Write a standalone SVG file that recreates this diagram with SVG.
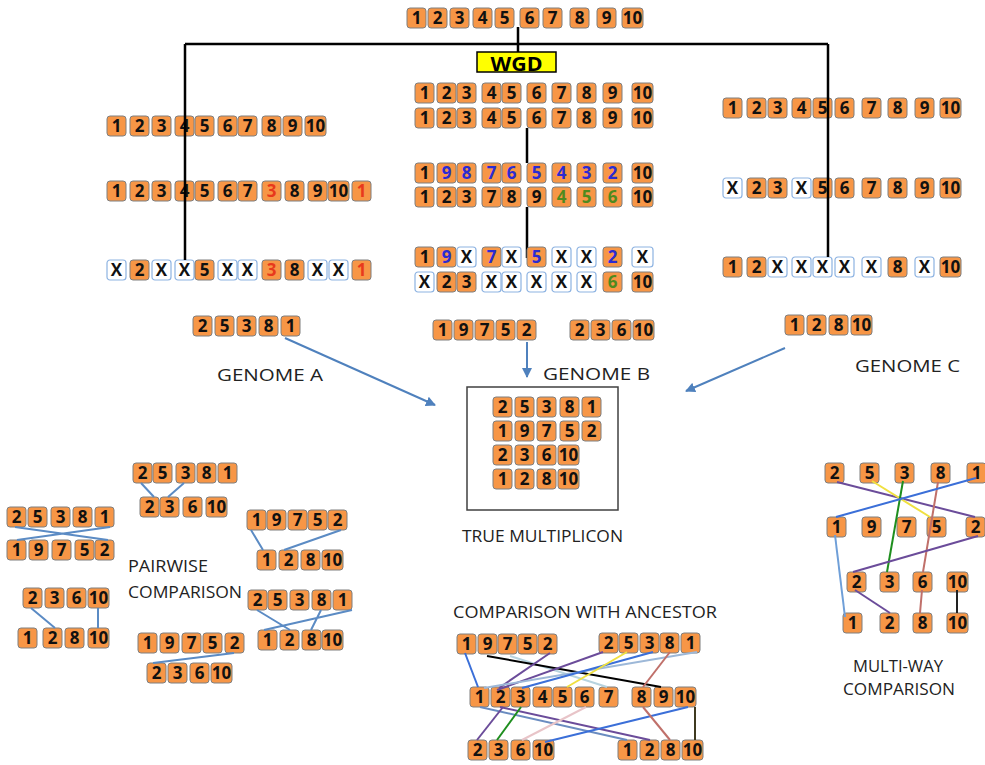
<svg xmlns="http://www.w3.org/2000/svg" xmlns:xlink="http://www.w3.org/1999/xlink" width="985" height="765" viewBox="0 0 985 765">
<style>
.n text{font-family:"Open Sans","DejaVu Sans",sans-serif;font-weight:700;font-size:17px;text-anchor:middle;fill:#111}
.n text.b{fill:#2B2BD2}.n text.g{fill:#4E8A1E}.n text.r{fill:#E8391C}
.lbl{font-family:"Open Sans","DejaVu Sans",sans-serif;font-size:16px;fill:#222}
.tree{stroke:#000;stroke-width:2.5;fill:none}
.arr{stroke:#4F81BD;stroke-width:2;fill:none}
.pw{stroke:#5B8BC4;stroke-width:2;fill:none}
.c{stroke-width:2;fill:none}
</style>
<defs>
<rect id="o" width="19" height="20" rx="3" fill="#F79646" stroke="#7F7F7F"/>
<rect id="o2" width="21" height="20" rx="3" fill="#F79646" stroke="#7F7F7F"/>
<rect id="w" width="19" height="20" rx="3" fill="#FFFFFF" stroke="#8DB3E2" stroke-width="1.2"/>
<rect id="w2" width="21" height="20" rx="3" fill="#FFFFFF" stroke="#8DB3E2" stroke-width="1.2"/>
<marker id="ah" viewBox="0 0 10 10" refX="9" refY="5" markerWidth="5" markerHeight="5" orient="auto"><path d="M0,0 L10,5 L0,10 z" fill="#4F81BD"/></marker>
</defs>
<rect width="985" height="765" fill="#fff"/>

<g id="connectors-tree">
<path class="tree" d="M185,44 H828 M518,27 V52 M527,128 V163 M527,207 V258"/>
</g>

<g id="n-ancestor" class="n">
<use href="#o" x="407" y="8"/><text x="416.5" y="24">1</text>
<use href="#o" x="428" y="8"/><text x="437.5" y="24">2</text>
<use href="#o" x="450" y="8"/><text x="459.5" y="24">3</text>
<use href="#o" x="473" y="8"/><text x="482.5" y="24">4</text>
<use href="#o" x="495" y="8"/><text x="504.5" y="24">5</text>
<use href="#o" x="520" y="8"/><text x="529.5" y="24">6</text>
<use href="#o" x="543" y="8"/><text x="552.5" y="24">7</text>
<use href="#o" x="570" y="8"/><text x="579.5" y="24">8</text>
<use href="#o" x="597" y="8"/><text x="606.5" y="24">9</text>
<use href="#o2" x="622" y="8"/><text x="632.5" y="24">10</text>
</g>

<g id="n-wgd">
<rect x="477" y="52" width="79" height="20" fill="#FFFF00" stroke="#000" stroke-width="1.5"/>
<text x="516.5" y="71" font-family="Open Sans, sans-serif" font-weight="700" font-size="20" text-anchor="middle" textLength="52" lengthAdjust="spacingAndGlyphs">WGD</text>
</g>

<g id="n-left-1" class="n">
<use href="#o" x="107" y="116"/><text x="116.5" y="132">1</text>
<use href="#o" x="130" y="116"/><text x="139.5" y="132">2</text>
<use href="#o" x="152" y="116"/><text x="161.5" y="132">3</text>
<use href="#o" x="175" y="116"/><text x="184.5" y="132">4</text>
<use href="#o" x="195" y="116"/><text x="204.5" y="132">5</text>
<use href="#o" x="218" y="116"/><text x="227.5" y="132">6</text>
<use href="#o" x="238" y="116"/><text x="247.5" y="132">7</text>
<use href="#o" x="262" y="116"/><text x="271.5" y="132">8</text>
<use href="#o" x="283" y="116"/><text x="292.5" y="132">9</text>
<use href="#o2" x="305" y="116"/><text x="315.5" y="132">10</text>
</g>
<g id="n-left-2" class="n">
<use href="#o" x="107" y="181"/><text x="116.5" y="197">1</text>
<use href="#o" x="130" y="181"/><text x="139.5" y="197">2</text>
<use href="#o" x="152" y="181"/><text x="161.5" y="197">3</text>
<use href="#o" x="175" y="181"/><text x="184.5" y="197">4</text>
<use href="#o" x="195" y="181"/><text x="204.5" y="197">5</text>
<use href="#o" x="218" y="181"/><text x="227.5" y="197">6</text>
<use href="#o" x="238" y="181"/><text x="247.5" y="197">7</text>
<use href="#o" x="262" y="181"/><text class="r" x="271.5" y="197">3</text>
<use href="#o" x="285" y="181"/><text x="294.5" y="197">8</text>
<use href="#o" x="308" y="181"/><text x="317.5" y="197">9</text>
<use href="#o2" x="328" y="181"/><text x="338.5" y="197">10</text>
<use href="#o" x="352" y="181"/><text class="r" x="361.5" y="197">1</text>
</g>
<g id="n-left-3" class="n">
<use href="#w" x="107" y="260"/><text x="116.5" y="276">X</text>
<use href="#o" x="130" y="260"/><text x="139.5" y="276">2</text>
<use href="#w" x="152" y="260"/><text x="161.5" y="276">X</text>
<use href="#w" x="175" y="260"/><text x="184.5" y="276">X</text>
<use href="#o" x="195" y="260"/><text x="204.5" y="276">5</text>
<use href="#w" x="218" y="260"/><text x="227.5" y="276">X</text>
<use href="#w" x="238" y="260"/><text x="247.5" y="276">X</text>
<use href="#o" x="262" y="260"/><text class="r" x="271.5" y="276">3</text>
<use href="#o" x="285" y="260"/><text x="294.5" y="276">8</text>
<use href="#w" x="308" y="260"/><text x="317.5" y="276">X</text>
<use href="#w" x="329" y="260"/><text x="338.5" y="276">X</text>
<use href="#o" x="352" y="260"/><text class="r" x="361.5" y="276">1</text>
</g>

<g id="n-mid-1" class="n">
<use href="#o" x="415" y="83"/><text x="424.5" y="99">1</text>
<use href="#o" x="437" y="83"/><text x="446.5" y="99">2</text>
<use href="#o" x="457" y="83"/><text x="466.5" y="99">3</text>
<use href="#o" x="482" y="83"/><text x="491.5" y="99">4</text>
<use href="#o" x="502" y="83"/><text x="511.5" y="99">5</text>
<use href="#o" x="527" y="83"/><text x="536.5" y="99">6</text>
<use href="#o" x="552" y="83"/><text x="561.5" y="99">7</text>
<use href="#o" x="577" y="83"/><text x="586.5" y="99">8</text>
<use href="#o" x="603" y="83"/><text x="612.5" y="99">9</text>
<use href="#o2" x="632" y="83"/><text x="642.5" y="99">10</text>
</g>
<g id="n-mid-2" class="n">
<use href="#o" x="415" y="108"/><text x="424.5" y="124">1</text>
<use href="#o" x="437" y="108"/><text x="446.5" y="124">2</text>
<use href="#o" x="457" y="108"/><text x="466.5" y="124">3</text>
<use href="#o" x="482" y="108"/><text x="491.5" y="124">4</text>
<use href="#o" x="502" y="108"/><text x="511.5" y="124">5</text>
<use href="#o" x="527" y="108"/><text x="536.5" y="124">6</text>
<use href="#o" x="552" y="108"/><text x="561.5" y="124">7</text>
<use href="#o" x="577" y="108"/><text x="586.5" y="124">8</text>
<use href="#o" x="603" y="108"/><text x="612.5" y="124">9</text>
<use href="#o2" x="632" y="108"/><text x="642.5" y="124">10</text>
</g>
<g id="n-mid-3" class="n">
<use href="#o" x="415" y="163"/><text x="424.5" y="179">1</text>
<use href="#o" x="437" y="163"/><text class="b" x="446.5" y="179">9</text>
<use href="#o" x="457" y="163"/><text class="b" x="466.5" y="179">8</text>
<use href="#o" x="482" y="163"/><text class="b" x="491.5" y="179">7</text>
<use href="#o" x="502" y="163"/><text class="b" x="511.5" y="179">6</text>
<use href="#o" x="527" y="163"/><text class="b" x="536.5" y="179">5</text>
<use href="#o" x="552" y="163"/><text class="b" x="561.5" y="179">4</text>
<use href="#o" x="577" y="163"/><text class="b" x="586.5" y="179">3</text>
<use href="#o" x="603" y="163"/><text class="b" x="612.5" y="179">2</text>
<use href="#o2" x="632" y="163"/><text x="642.5" y="179">10</text>
</g>
<g id="n-mid-4" class="n">
<use href="#o" x="415" y="187"/><text x="424.5" y="203">1</text>
<use href="#o" x="437" y="187"/><text x="446.5" y="203">2</text>
<use href="#o" x="457" y="187"/><text x="466.5" y="203">3</text>
<use href="#o" x="482" y="187"/><text x="491.5" y="203">7</text>
<use href="#o" x="502" y="187"/><text x="511.5" y="203">8</text>
<use href="#o" x="527" y="187"/><text x="536.5" y="203">9</text>
<use href="#o" x="552" y="187"/><text class="g" x="561.5" y="203">4</text>
<use href="#o" x="577" y="187"/><text class="g" x="586.5" y="203">5</text>
<use href="#o" x="603" y="187"/><text class="g" x="612.5" y="203">6</text>
<use href="#o2" x="632" y="187"/><text x="642.5" y="203">10</text>
</g>
<g id="n-mid-5" class="n">
<use href="#o" x="415" y="247"/><text x="424.5" y="263">1</text>
<use href="#o" x="437" y="247"/><text class="b" x="446.5" y="263">9</text>
<use href="#w" x="457" y="247"/><text x="466.5" y="263">X</text>
<use href="#o" x="482" y="247"/><text class="b" x="491.5" y="263">7</text>
<use href="#w" x="502" y="247"/><text x="511.5" y="263">X</text>
<use href="#o" x="527" y="247"/><text class="b" x="536.5" y="263">5</text>
<use href="#w" x="552" y="247"/><text x="561.5" y="263">X</text>
<use href="#w" x="577" y="247"/><text x="586.5" y="263">X</text>
<use href="#o" x="603" y="247"/><text class="b" x="612.5" y="263">2</text>
<use href="#w2" x="632" y="247"/><text x="642.5" y="263">X</text>
</g>
<g id="n-mid-6" class="n">
<use href="#w" x="415" y="272"/><text x="424.5" y="288">X</text>
<use href="#o" x="437" y="272"/><text x="446.5" y="288">2</text>
<use href="#o" x="457" y="272"/><text x="466.5" y="288">3</text>
<use href="#w" x="482" y="272"/><text x="491.5" y="288">X</text>
<use href="#w" x="502" y="272"/><text x="511.5" y="288">X</text>
<use href="#w" x="527" y="272"/><text x="536.5" y="288">X</text>
<use href="#w" x="552" y="272"/><text x="561.5" y="288">X</text>
<use href="#w" x="577" y="272"/><text x="586.5" y="288">X</text>
<use href="#o" x="603" y="272"/><text class="g" x="612.5" y="288">6</text>
<use href="#o2" x="632" y="272"/><text x="642.5" y="288">10</text>
</g>

<g id="n-right-1" class="n">
<use href="#o" x="723" y="98"/><text x="732.5" y="114">1</text>
<use href="#o" x="747" y="98"/><text x="756.5" y="114">2</text>
<use href="#o" x="768" y="98"/><text x="777.5" y="114">3</text>
<use href="#o" x="792" y="98"/><text x="801.5" y="114">4</text>
<use href="#o" x="813" y="98"/><text x="822.5" y="114">5</text>
<use href="#o" x="835" y="98"/><text x="844.5" y="114">6</text>
<use href="#o" x="862" y="98"/><text x="871.5" y="114">7</text>
<use href="#o" x="888" y="98"/><text x="897.5" y="114">8</text>
<use href="#o" x="915" y="98"/><text x="924.5" y="114">9</text>
<use href="#o2" x="940" y="98"/><text x="950.5" y="114">10</text>
</g>
<g id="n-right-2" class="n">
<use href="#w" x="723" y="178"/><text x="732.5" y="194">X</text>
<use href="#o" x="747" y="178"/><text x="756.5" y="194">2</text>
<use href="#o" x="768" y="178"/><text x="777.5" y="194">3</text>
<use href="#w" x="792" y="178"/><text x="801.5" y="194">X</text>
<use href="#o" x="813" y="178"/><text x="822.5" y="194">5</text>
<use href="#o" x="835" y="178"/><text x="844.5" y="194">6</text>
<use href="#o" x="862" y="178"/><text x="871.5" y="194">7</text>
<use href="#o" x="888" y="178"/><text x="897.5" y="194">8</text>
<use href="#o" x="915" y="178"/><text x="924.5" y="194">9</text>
<use href="#o2" x="940" y="178"/><text x="950.5" y="194">10</text>
</g>
<g id="n-right-3" class="n">
<use href="#o" x="723" y="257"/><text x="732.5" y="273">1</text>
<use href="#o" x="747" y="257"/><text x="756.5" y="273">2</text>
<use href="#w" x="768" y="257"/><text x="777.5" y="273">X</text>
<use href="#w" x="792" y="257"/><text x="801.5" y="273">X</text>
<use href="#w" x="813" y="257"/><text x="822.5" y="273">X</text>
<use href="#w" x="835" y="257"/><text x="844.5" y="273">X</text>
<use href="#w" x="862" y="257"/><text x="871.5" y="273">X</text>
<use href="#o" x="888" y="257"/><text x="897.5" y="273">8</text>
<use href="#w" x="915" y="257"/><text x="924.5" y="273">X</text>
<use href="#o2" x="940" y="257"/><text x="950.5" y="273">10</text>
</g>

<g id="connectors-tree-over">
<path class="tree" d="M185,44 V260 M828,44 V257"/>
</g>

<g id="n-genome-a" class="n">
<use href="#o" x="193" y="316"/><text x="202.5" y="332">2</text>
<use href="#o" x="215" y="316"/><text x="224.5" y="332">5</text>
<use href="#o" x="237" y="316"/><text x="246.5" y="332">3</text>
<use href="#o" x="259" y="316"/><text x="268.5" y="332">8</text>
<use href="#o" x="281" y="316"/><text x="290.5" y="332">1</text>
</g>
<g id="n-genome-b1" class="n">
<use href="#o" x="433" y="320"/><text x="442.5" y="336">1</text>
<use href="#o" x="454" y="320"/><text x="463.5" y="336">9</text>
<use href="#o" x="475" y="320"/><text x="484.5" y="336">7</text>
<use href="#o" x="496" y="320"/><text x="505.5" y="336">5</text>
<use href="#o" x="517" y="320"/><text x="526.5" y="336">2</text>
</g>
<g id="n-genome-b2" class="n">
<use href="#o" x="570" y="320"/><text x="579.5" y="336">2</text>
<use href="#o" x="591" y="320"/><text x="600.5" y="336">3</text>
<use href="#o" x="612" y="320"/><text x="621.5" y="336">6</text>
<use href="#o2" x="633" y="320"/><text x="643.5" y="336">10</text>
</g>
<g id="n-genome-c" class="n">
<use href="#o" x="785" y="315"/><text x="794.5" y="331">1</text>
<use href="#o" x="807" y="315"/><text x="816.5" y="331">2</text>
<use href="#o" x="829" y="315"/><text x="838.5" y="331">8</text>
<use href="#o2" x="851" y="315"/><text x="861.5" y="331">10</text>
</g>
<text class="lbl" x="217" y="381" font-size="17" textLength="106" lengthAdjust="spacingAndGlyphs">GENOME A</text>
<text class="lbl" x="543" y="380" font-size="17" textLength="107" lengthAdjust="spacingAndGlyphs">GENOME B</text>
<text class="lbl" x="855" y="372" font-size="17" textLength="105" lengthAdjust="spacingAndGlyphs">GENOME C</text>

<g id="n-multiplicon" class="n">
<rect x="467" y="387" width="151" height="123" fill="none" stroke="#404040" stroke-width="1.5"/>
<use href="#o" x="493" y="397"/><text x="502.5" y="413">2</text>
<use href="#o" x="515" y="397"/><text x="524.5" y="413">5</text>
<use href="#o" x="537" y="397"/><text x="546.5" y="413">3</text>
<use href="#o" x="560" y="397"/><text x="569.5" y="413">8</text>
<use href="#o" x="582" y="397"/><text x="591.5" y="413">1</text>
<use href="#o" x="493" y="421"/><text x="502.5" y="437">1</text>
<use href="#o" x="515" y="421"/><text x="524.5" y="437">9</text>
<use href="#o" x="537" y="421"/><text x="546.5" y="437">7</text>
<use href="#o" x="560" y="421"/><text x="569.5" y="437">5</text>
<use href="#o" x="582" y="421"/><text x="591.5" y="437">2</text>
<use href="#o" x="493" y="445"/><text x="502.5" y="461">2</text>
<use href="#o" x="515" y="445"/><text x="524.5" y="461">3</text>
<use href="#o" x="537" y="445"/><text x="546.5" y="461">6</text>
<use href="#o2" x="558" y="445"/><text x="568.5" y="461">10</text>
<use href="#o" x="493" y="469"/><text x="502.5" y="485">1</text>
<use href="#o" x="515" y="469"/><text x="524.5" y="485">2</text>
<use href="#o" x="537" y="469"/><text x="546.5" y="485">8</text>
<use href="#o2" x="558" y="469"/><text x="568.5" y="485">10</text>
</g>
<text class="lbl" x="462" y="542" textLength="161" lengthAdjust="spacingAndGlyphs">TRUE MULTIPLICON</text>

<g id="connectors-genome">
<path class="arr" marker-end="url(#ah)" d="M285,338 L435,405"/>
<path class="arr" marker-end="url(#ah)" d="M527,342 V377"/>
<path class="arr" marker-end="url(#ah)" d="M785,348 L686,391"/>
</g>

<g id="n-pw1" class="n">
<use href="#o" x="133" y="463"/><text x="142.5" y="479">2</text>
<use href="#o" x="153" y="463"/><text x="162.5" y="479">5</text>
<use href="#o" x="176" y="463"/><text x="185.5" y="479">3</text>
<use href="#o" x="197" y="463"/><text x="206.5" y="479">8</text>
<use href="#o" x="218" y="463"/><text x="227.5" y="479">1</text>
<use href="#o" x="140" y="497"/><text x="149.5" y="513">2</text>
<use href="#o" x="160" y="497"/><text x="169.5" y="513">3</text>
<use href="#o" x="183" y="497"/><text x="192.5" y="513">6</text>
<use href="#o2" x="206" y="497"/><text x="216.5" y="513">10</text>
</g>
<g id="n-pw2" class="n">
<use href="#o" x="7" y="507"/><text x="16.5" y="523">2</text>
<use href="#o" x="28" y="507"/><text x="37.5" y="523">5</text>
<use href="#o" x="51" y="507"/><text x="60.5" y="523">3</text>
<use href="#o" x="73" y="507"/><text x="82.5" y="523">8</text>
<use href="#o" x="95" y="507"/><text x="104.5" y="523">1</text>
<use href="#o" x="7" y="540"/><text x="16.5" y="556">1</text>
<use href="#o" x="29" y="540"/><text x="38.5" y="556">9</text>
<use href="#o" x="52" y="540"/><text x="61.5" y="556">7</text>
<use href="#o" x="75" y="540"/><text x="84.5" y="556">5</text>
<use href="#o" x="95" y="540"/><text x="104.5" y="556">2</text>
</g>
<g id="n-pw3" class="n">
<use href="#o" x="247" y="510"/><text x="256.5" y="526">1</text>
<use href="#o" x="267" y="510"/><text x="276.5" y="526">9</text>
<use href="#o" x="288" y="510"/><text x="297.5" y="526">7</text>
<use href="#o" x="308" y="510"/><text x="317.5" y="526">5</text>
<use href="#o" x="328" y="510"/><text x="337.5" y="526">2</text>
<use href="#o" x="257" y="550"/><text x="266.5" y="566">1</text>
<use href="#o" x="279" y="550"/><text x="288.5" y="566">2</text>
<use href="#o" x="301" y="550"/><text x="310.5" y="566">8</text>
<use href="#o2" x="322" y="550"/><text x="332.5" y="566">10</text>
</g>
<g id="n-pw4" class="n">
<use href="#o" x="23" y="588"/><text x="32.5" y="604">2</text>
<use href="#o" x="45" y="588"/><text x="54.5" y="604">3</text>
<use href="#o" x="67" y="588"/><text x="76.5" y="604">6</text>
<use href="#o2" x="88" y="588"/><text x="98.5" y="604">10</text>
<use href="#o" x="18" y="628"/><text x="27.5" y="644">1</text>
<use href="#o" x="43" y="628"/><text x="52.5" y="644">2</text>
<use href="#o" x="65" y="628"/><text x="74.5" y="644">8</text>
<use href="#o2" x="88" y="628"/><text x="98.5" y="644">10</text>
</g>
<g id="n-pw5" class="n">
<use href="#o" x="248" y="590"/><text x="257.5" y="606">2</text>
<use href="#o" x="268" y="590"/><text x="277.5" y="606">5</text>
<use href="#o" x="290" y="590"/><text x="299.5" y="606">3</text>
<use href="#o" x="312" y="590"/><text x="321.5" y="606">8</text>
<use href="#o" x="333" y="590"/><text x="342.5" y="606">1</text>
<use href="#o" x="258" y="630"/><text x="267.5" y="646">1</text>
<use href="#o" x="280" y="630"/><text x="289.5" y="646">2</text>
<use href="#o" x="302" y="630"/><text x="311.5" y="646">8</text>
<use href="#o2" x="322" y="630"/><text x="332.5" y="646">10</text>
</g>
<g id="n-pw6" class="n">
<use href="#o" x="138" y="633"/><text x="147.5" y="649">1</text>
<use href="#o" x="160" y="633"/><text x="169.5" y="649">9</text>
<use href="#o" x="182" y="633"/><text x="191.5" y="649">7</text>
<use href="#o" x="203" y="633"/><text x="212.5" y="649">5</text>
<use href="#o" x="225" y="633"/><text x="234.5" y="649">2</text>
<use href="#o" x="147" y="663"/><text x="156.5" y="679">2</text>
<use href="#o" x="168" y="663"/><text x="177.5" y="679">3</text>
<use href="#o" x="190" y="663"/><text x="199.5" y="679">6</text>
<use href="#o2" x="211" y="663"/><text x="221.5" y="679">10</text>
</g>
<text class="lbl" x="128" y="572" textLength="80" lengthAdjust="spacingAndGlyphs">PAIRWISE</text>
<text class="lbl" x="128" y="598" textLength="114" lengthAdjust="spacingAndGlyphs">COMPARISON</text>

<g id="connectors-pairwise">
<path class="pw" d="M141,483 L154,497 M184,483 L168,497"/>
<path class="pw" d="M15,527 L108,540 M110,527 L17,540"/>
<path class="pw" d="M251,530 L263,550 M341,530 L284,550"/>
<path class="pw" d="M31,608 L55,628 M98,608 V628"/>
<path class="pw" d="M257,610 L290,630 M352,610 L264,630 M321,610 L311,630"/>
<path class="pw" d="M234,653 L153,663"/>
</g>

<text class="lbl" x="453" y="618" textLength="264" lengthAdjust="spacingAndGlyphs">COMPARISON WITH ANCESTOR</text>
<g id="n-anc-b1" class="n">
<use href="#o" x="457" y="634"/><text x="466.5" y="650">1</text>
<use href="#o" x="478" y="634"/><text x="487.5" y="650">9</text>
<use href="#o" x="498" y="634"/><text x="507.5" y="650">7</text>
<use href="#o" x="518" y="634"/><text x="527.5" y="650">5</text>
<use href="#o" x="538" y="634"/><text x="547.5" y="650">2</text>
</g>
<g id="n-anc-a" class="n">
<use href="#o" x="599" y="633"/><text x="608.5" y="649">2</text>
<use href="#o" x="619" y="633"/><text x="628.5" y="649">5</text>
<use href="#o" x="640" y="633"/><text x="649.5" y="649">3</text>
<use href="#o" x="660" y="633"/><text x="669.5" y="649">8</text>
<use href="#o" x="681" y="633"/><text x="690.5" y="649">1</text>
</g>
<g id="n-anc-mid" class="n">
<use href="#o" x="470" y="687"/><text x="479.5" y="703">1</text>
<use href="#o" x="491" y="687"/><text x="500.5" y="703">2</text>
<use href="#o" x="511" y="687"/><text x="520.5" y="703">3</text>
<use href="#o" x="533" y="687"/><text x="542.5" y="703">4</text>
<use href="#o" x="553" y="687"/><text x="562.5" y="703">5</text>
<use href="#o" x="575" y="687"/><text x="584.5" y="703">6</text>
<use href="#o" x="599" y="687"/><text x="608.5" y="703">7</text>
<use href="#o" x="632" y="687"/><text x="641.5" y="703">8</text>
<use href="#o" x="654" y="687"/><text x="663.5" y="703">9</text>
<use href="#o2" x="675" y="687"/><text x="685.5" y="703">10</text>
</g>
<g id="n-anc-b2" class="n">
<use href="#o" x="468" y="740"/><text x="477.5" y="756">2</text>
<use href="#o" x="489" y="740"/><text x="498.5" y="756">3</text>
<use href="#o" x="511" y="740"/><text x="520.5" y="756">6</text>
<use href="#o2" x="533" y="740"/><text x="543.5" y="756">10</text>
</g>
<g id="n-anc-c" class="n">
<use href="#o" x="618" y="740"/><text x="627.5" y="756">1</text>
<use href="#o" x="640" y="740"/><text x="649.5" y="756">2</text>
<use href="#o" x="661" y="740"/><text x="670.5" y="756">8</text>
<use href="#o2" x="682" y="740"/><text x="692.5" y="756">10</text>
</g>
<g id="connectors-ancestor">
<path class="c" stroke="#3B6FD8" d="M465,653 L478,687"/>
<path class="c" stroke="#B7D3DF" d="M510,656 L607,687"/>
<path class="c" stroke="#000000" d="M487,656 L661,687"/>
<path class="c" stroke="#6B4C9A" d="M550,653 L499,688"/>
<path class="c" stroke="#6B4C9A" d="M603,652 L497,690"/>
<path class="c" stroke="#9DB8D8" d="M697,652 L484,688"/>
<path class="c" stroke="#3B6FD8" d="M653,652 L522,688"/>
<path class="c" stroke="#F0E040" d="M627,652 L567,687"/>
<path class="c" stroke="#C0706A" d="M670,652 L643,687"/>
<path class="c" stroke="#6A8CC0" d="M480,707 L627,740"/>
<path class="c" stroke="#6B4C9A" d="M500,707 L650,740"/>
<path class="c" stroke="#6B4C9A" d="M503,707 L477,740"/>
<path class="c" stroke="#1E8E1E" d="M521,707 L497,740"/>
<path class="c" stroke="#E8C4C8" d="M586,707 L522,740"/>
<path class="c" stroke="#3B6FD8" d="M688,707 L545,742"/>
<path class="c" stroke="#C0706A" d="M643,707 L670,740"/>
<path class="c" stroke="#3F3A20" d="M695,707 V740"/>
</g>

<g id="n-multi" class="n">
<use href="#o" x="825" y="463"/><text x="834.5" y="479">2</text>
<use href="#o" x="860" y="463"/><text x="869.5" y="479">5</text>
<use href="#o" x="895" y="463"/><text x="904.5" y="479">3</text>
<use href="#o" x="931" y="463"/><text x="940.5" y="479">8</text>
<use href="#o" x="967" y="463"/><text x="976.5" y="479">1</text>
<use href="#o" x="827" y="517"/><text x="836.5" y="533">1</text>
<use href="#o" x="862" y="517"/><text x="871.5" y="533">9</text>
<use href="#o" x="897" y="517"/><text x="906.5" y="533">7</text>
<use href="#o" x="927" y="517"/><text x="936.5" y="533">5</text>
<use href="#o" x="966" y="517"/><text x="975.5" y="533">2</text>
<use href="#o" x="847" y="572"/><text x="856.5" y="588">2</text>
<use href="#o" x="880" y="572"/><text x="889.5" y="588">3</text>
<use href="#o" x="913" y="572"/><text x="922.5" y="588">6</text>
<use href="#o2" x="947" y="572"/><text x="957.5" y="588">10</text>
<use href="#o" x="843" y="613"/><text x="852.5" y="629">1</text>
<use href="#o" x="880" y="613"/><text x="889.5" y="629">2</text>
<use href="#o" x="913" y="613"/><text x="922.5" y="629">8</text>
<use href="#o2" x="947" y="613"/><text x="957.5" y="629">10</text>
</g>
<g id="connectors-multi">
<path class="c" stroke="#6B4C9A" d="M837,482 L975,517"/>
<path class="c" stroke="#F0E040" stroke-width="2.5" d="M872,481 L930,517"/>
<path class="c" stroke="#1E8E1E" d="M903,481 L887,572"/>
<path class="c" stroke="#C0706A" d="M938,482 L923,572 M922,590 L920,613"/>
<path class="c" stroke="#3B6FD8" d="M976,478 L836,517"/>
<path class="c" stroke="#6B4C9A" d="M978,536 L853,572"/>
<path class="c" stroke="#6F9FD8" d="M835,535 L845,617"/>
<path class="c" stroke="#6B4C9A" d="M855,590 L890,613"/>
<path class="c" stroke="#222222" d="M957,590 V613"/>
</g>
<text class="lbl" x="853" y="672" textLength="90" lengthAdjust="spacingAndGlyphs">MULTI-WAY</text>
<text class="lbl" x="843" y="695" textLength="112" lengthAdjust="spacingAndGlyphs">COMPARISON</text>
</svg>
